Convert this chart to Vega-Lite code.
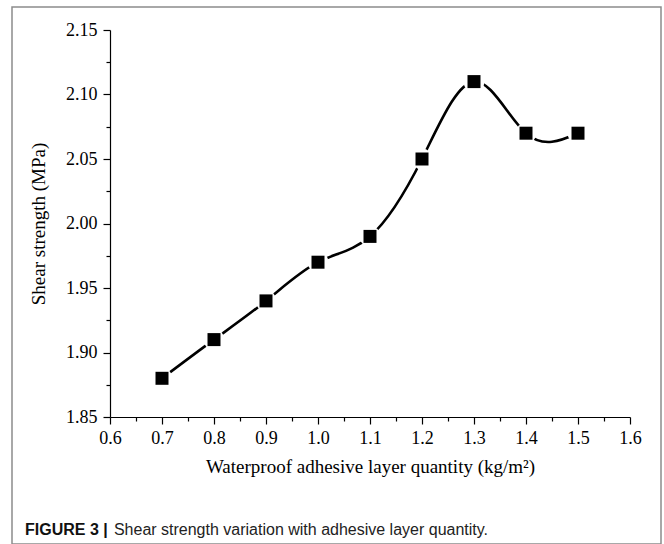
{
  "$schema": "https://vega.github.io/schema/vega-lite/v6.json",
  "width": 649,
  "height": 537,
  "autosize": "none",
  "padding": {"left": 12, "top": 7, "right": 3, "bottom": 0},
  "background": "white",
  "config": {
    "view": {"stroke": "#8c8c8c", "strokeWidth": 1.5},
    "font": "Liberation Serif"
  },
  "title": {
    "text": "FIGURE 3 |",
    "subtitle": "\u200b\u00a0\u00a0\u00a0\u00a0\u00a0\u00a0\u00a0\u00a0\u00a0\u00a0\u00a0\u00a0\u00a0\u00a0\u00a0\u00a0\u00a0\u00a0\u00a0\u00a0Shear strength variation with adhesive layer quantity.",
    "orient": "bottom",
    "anchor": "start",
    "frame": "group",
    "dx": 13,
    "offset": -22,
    "font": "Liberation Sans",
    "fontWeight": "bold",
    "fontSize": 16,
    "color": "#111111",
    "subtitleFont": "Liberation Sans",
    "subtitleFontSize": 16,
    "subtitleColor": "#222222",
    "subtitlePadding": -16
  },
  "data": {
    "values": [
      {"q": 0.7, "s": 1.88},
      {"q": 0.8, "s": 1.91},
      {"q": 0.9, "s": 1.94},
      {"q": 1.0, "s": 1.97},
      {"q": 1.1, "s": 1.99},
      {"q": 1.2, "s": 2.05},
      {"q": 1.3, "s": 2.11},
      {"q": 1.4, "s": 2.07},
      {"q": 1.5, "s": 2.07}
    ]
  },
  "encoding": {
    "x": {
      "field": "q",
      "type": "quantitative",
      "scale": {"domain": [0.6, 1.6], "range": [98, 618], "zero": false, "nice": false},
      "axis": {
        "title": "Waterproof adhesive layer quantity (kg/m²)",
        "values": [0.6, 0.65, 0.7, 0.75, 0.8, 0.85, 0.9, 0.95, 1.0, 1.05, 1.1, 1.15, 1.2, 1.25, 1.3, 1.35, 1.4, 1.45, 1.5, 1.55, 1.6],
        "labelExpr": "abs(datum.value*10 - round(datum.value*10)) < 0.01 ? format(datum.value, '.1f') : ''",
        "offset": -127,
        "grid": false,
        "domainColor": "black",
        "domainWidth": 1.2,
        "tickColor": "black",
        "tickWidth": 1.2,
        "tickSize": {"condition": {"test": "abs(datum.value*10 - round(datum.value*10)) < 0.01", "value": 7}, "value": 4},
        "labelFont": "Liberation Serif",
        "labelFontSize": 18,
        "labelColor": "black",
        "labelPadding": 5,
        "labelFlush": false,
        "labelOverlap": false,
        "titleFont": "Liberation Serif",
        "titleFontSize": 19,
        "titleFontWeight": "normal",
        "titleColor": "black",
        "titlePadding": 10
      }
    },
    "y": {
      "field": "s",
      "type": "quantitative",
      "scale": {"domain": [1.85, 2.15], "range": [410, 23], "zero": false, "nice": false},
      "axis": {
        "title": "Shear strength (MPa)",
        "values": [1.85, 1.875, 1.9, 1.925, 1.95, 1.975, 2.0, 2.025, 2.05, 2.075, 2.1, 2.125, 2.15],
        "labelExpr": "abs(datum.value*20 - round(datum.value*20)) < 0.01 ? format(datum.value, '.2f') : ''",
        "offset": -98,
        "grid": false,
        "domainColor": "black",
        "domainWidth": 1.2,
        "tickColor": "black",
        "tickWidth": 1.2,
        "tickSize": {"condition": {"test": "abs(datum.value*20 - round(datum.value*20)) < 0.01", "value": 7}, "value": 4},
        "labelFont": "Liberation Serif",
        "labelFontSize": 18,
        "labelColor": "black",
        "labelPadding": 6,
        "labelFlush": false,
        "labelOverlap": false,
        "titleFont": "Liberation Serif",
        "titleFontSize": 19,
        "titleFontWeight": "normal",
        "titleColor": "black",
        "titlePadding": 17
      }
    }
  },
  "layer": [
    {"mark": {"type": "line", "interpolate": "natural", "color": "black", "strokeWidth": 2.6}},
    {"mark": {"type": "point", "shape": "circle", "filled": true, "color": "white", "opacity": 1, "size": 440}},
    {"mark": {"type": "point", "shape": "square", "filled": true, "color": "black", "opacity": 1, "size": 169}}
  ]
}
